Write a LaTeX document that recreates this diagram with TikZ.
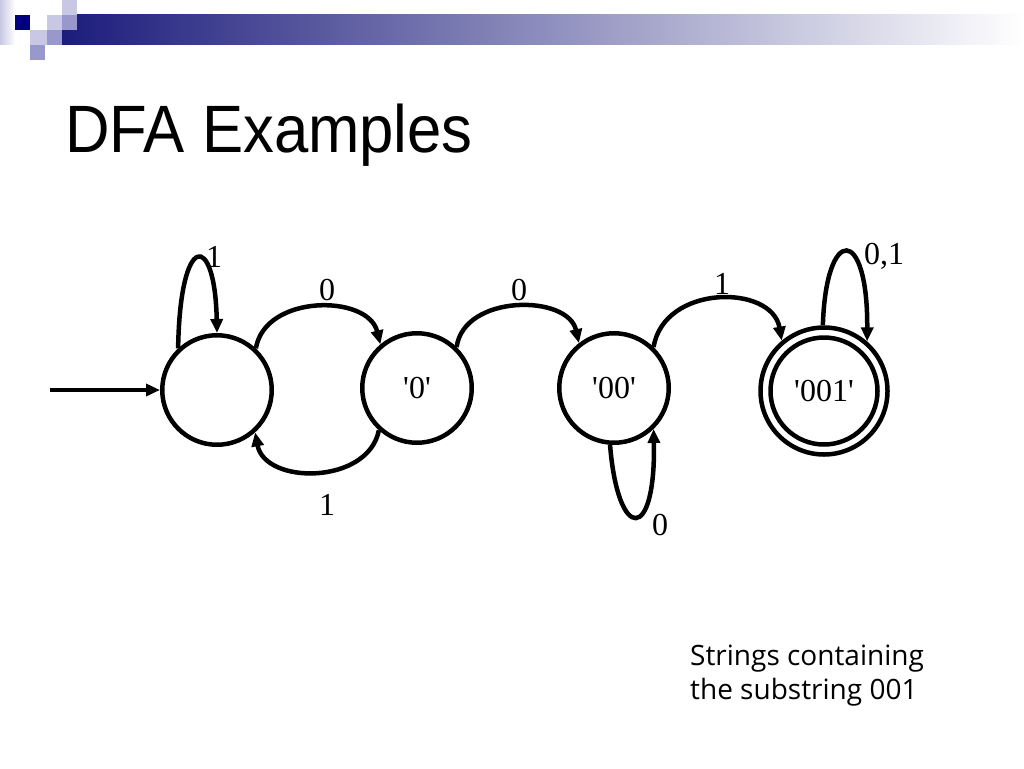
\documentclass[tikz,border=0pt]{standalone}
\usepackage{fontspec}
\setmainfont{Liberation Serif}
\newfontfamily\titlefont{Liberation Sans}
\newfontfamily\notefont{Open Sans}
\usetikzlibrary{arrows.meta}
\definecolor{navy}{RGB}{0,0,128}
\definecolor{barnavy}{RGB}{28,28,124}
\definecolor{lightsq}{RGB}{200,200,228}
\definecolor{medsq}{RGB}{152,152,204}
\newcommand\sq{\textquotesingle}
\begin{document}
\begin{tikzpicture}[x=1pt,y=1pt,
  state/.style={circle,draw,line width=4.5pt,minimum size=109.5pt,inner sep=0pt,font=\fontsize{32}{32}\selectfont},
  edge/.style={line width=4.5pt,-{Triangle[length=14pt,width=12pt]}},
  lbl/.style={font=\fontsize{32}{32}\selectfont,inner sep=0pt}]
\useasboundingbox (0,0) rectangle (1024,-768);
\fill[white] (0,0) rectangle (1024,-768);
% logo and bar
\shade[left color=barnavy,middle color={rgb,255:red,150;green,150;blue,172},right color=white] (62,-15) rectangle (1024,-45);
\shade[left color=lightsq,right color=white] (0,0) rectangle (15,-45);
\fill[navy] (15,-15) rectangle (30,-30);
\fill[lightsq] (62,0) rectangle (77,-15);
\fill[lightsq] (47,-15) rectangle (62,-30);
\fill[medsq] (62,-15) rectangle (77,-30);
\fill[lightsq] (30,-30) rectangle (47,-45);
\fill[medsq] (47,-30) rectangle (62,-45);
\fill[medsq] (30,-45) rectangle (45,-60);
% title
\node[anchor=base west,inner sep=0pt] (title) at (65,-152) {\scalebox{0.92}[1]{\titlefont\fontsize{67}{67}\selectfont DFA Examples}};
% states
\node[state] (q0) at (217,-390) {};
\node[state] (q1) at (417,-388) {\sq0\sq};
\node[state] (q2) at (614,-388) {\sq00\sq};
\node[state,minimum size=127pt] (q3) at (824,-391) {\sq001\sq};
\draw[line width=4.5pt] (q3.center) circle (53.5);
% start
\coordinate (s) at (50,-390);
\draw[edge] (s) -- (q0.west);
% transitions
\draw[edge] (q0.133) .. controls (180,-231) and (215,-231) .. (q0.90);
\draw[edge] (q0.47) .. controls (265,-294) and (368,-294) .. (q1.130);
\draw[edge] (q1.228) .. controls (368,-485) and (265,-485) .. (q0.312);
\draw[edge] (q1.46) .. controls (464,-294) and (568,-294) .. (q2.128);
\draw[edge] (q2.266) .. controls (618,-543) and (656,-543) .. (q2.314);
\draw[edge] (q2.46) .. controls (664,-284) and (772,-284) .. (q3.130);
\draw[edge] (q3.91) .. controls (826,-225) and (868,-225) .. (q3.49);
% labels
\node[lbl] (l1) at (214,-257) {1};
\node[lbl] (l2) at (327,-290) {0};
\node[lbl] (l3) at (327,-505) {1};
\node[lbl] (l4) at (519,-290) {0};
\node[lbl] (l5) at (722,-284) {1};
\node[lbl] (l6) at (884,-256) {0,1};
\node[lbl] (l7) at (660,-525) {0};
% note
\node[anchor=base west,inner sep=0pt,align=left,font=\notefont\fontsize{28}{34}\selectfont] (note) at (690,-699) {Strings containing\\the substring 001};
\end{tikzpicture}
\end{document}
